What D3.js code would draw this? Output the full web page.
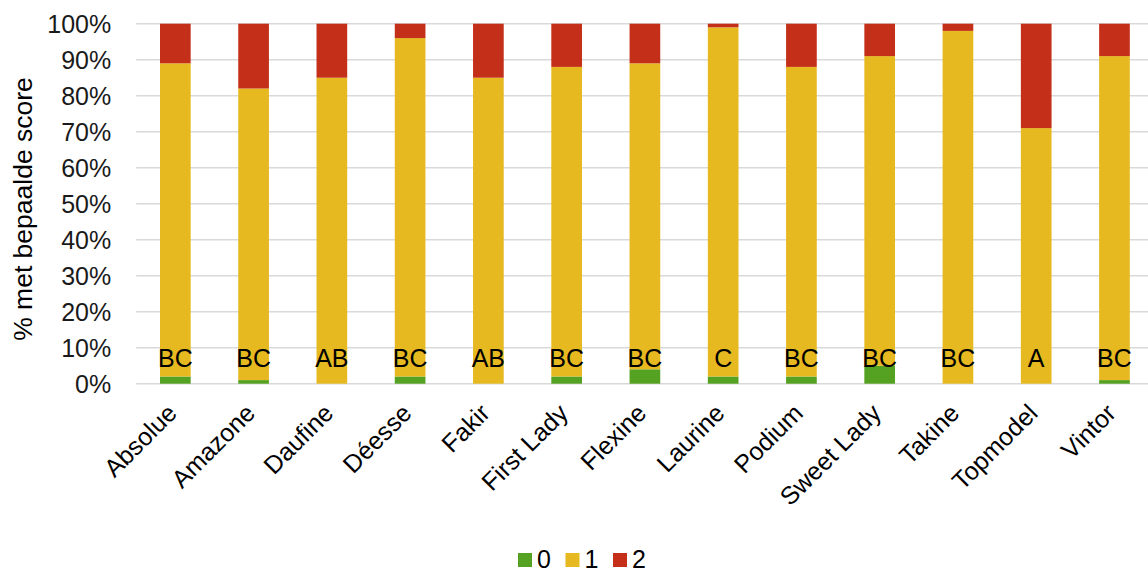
<!DOCTYPE html>
<html>
<head>
<meta charset="utf-8">
<script src="https://cdn.jsdelivr.net/npm/d3@7"></script>
<style>
  body { margin: 0; background: #fff; }
  svg { display: block; font-family: "Liberation Sans", Arial, sans-serif; }
</style>
</head>
<body>
<svg id="chart" width="1148" height="572"></svg>
<script>
// Cultivars and share of plants per score (percent)
const cultivars = ["Absolue", "Amazone", "Daufine", "Déesse", "Fakir", "First Lady", "Flexine",
                   "Laurine", "Podium", "Sweet Lady", "Takine", "Topmodel", "Vintor"];
const score0 = [2, 1, 0, 2, 0, 2, 4, 2, 2, 5, 0, 0, 1];
const score1 = [87, 81, 85, 94, 85, 86, 85, 97, 86, 86, 98, 71, 90];
const score2 = [11, 18, 15, 4, 15, 12, 11, 1, 12, 9, 2, 29, 9];
const groups = ["BC", "BC", "AB", "BC", "AB", "BC", "BC", "C", "BC", "BC", "BC", "A", "BC"];
const seriesKeys = ["0", "1", "2"];
const seriesColors = ["#55a122", "#e5b91f", "#c42f1a"];
const yTicks = [0, 10, 20, 30, 40, 50, 60, 70, 80, 90, 100];

const rows = cultivars.map((c, i) => ({ name: c, "0": score0[i], "1": score1[i], "2": score2[i], group: groups[i] }));

const svg = d3.select("#chart");
const plotLeft = 136.2, plotRight = 1153.6, plotTop = 23.7, plotBottom = 383.7;
const fontSize = 25;

const x = d3.scaleBand().domain(cultivars).range([plotLeft, plotRight]).paddingInner(0.608).paddingOuter(0.304);
const y = d3.scaleLinear().domain([0, 100]).range([plotBottom, plotTop]);
const color = d3.scaleOrdinal().domain(seriesKeys).range(seriesColors);

// horizontal gridlines
svg.append("g")
  .selectAll("line")
  .data(yTicks)
  .join("line")
  .attr("x1", plotLeft).attr("x2", 1148)
  .attr("y1", d => y(d)).attr("y2", d => y(d))
  .attr("stroke", "#d9d9d9").attr("stroke-width", 1.5);

// y axis tick labels
const yAxis = d3.axisLeft(y).tickValues(yTicks).tickFormat(d => d + "%").tickSize(0).tickPadding(0);
const yg = svg.append("g").attr("transform", `translate(${plotLeft - 25},0)`).call(yAxis);
yg.select(".domain").remove();
yg.selectAll("text").attr("font-size", fontSize).attr("fill", "#1a1a1a").attr("font-family", "Liberation Sans, Arial, sans-serif").attr("dy", "0.35em");

// stacked bars
const stacked = d3.stack().keys(seriesKeys)(rows);
svg.append("g")
  .selectAll("g")
  .data(stacked)
  .join("g")
  .attr("fill", d => color(d.key))
  .selectAll("rect")
  .data(d => d)
  .join("rect")
  .attr("x", d => x(d.data.name))
  .attr("width", x.bandwidth())
  .attr("y", d => y(d[1]))
  .attr("height", d => y(d[0]) - y(d[1]));

// significance group letters
svg.append("g")
  .selectAll("text")
  .data(rows)
  .join("text")
  .attr("x", d => x(d.name) + x.bandwidth() / 2)
  .attr("y", y(4.6))
  .attr("text-anchor", "middle")
  .attr("font-size", fontSize)
  .attr("fill", "#000")
  .text(d => d.group);

// x axis category labels
const xAxis = d3.axisBottom(x).tickSize(0).tickPadding(0);
const xg = svg.append("g").attr("transform", `translate(0,${plotBottom})`).call(xAxis);
xg.select(".domain").remove();
xg.selectAll("text")
  .attr("font-size", fontSize)
  .attr("fill", "#000")
  .attr("font-family", "Liberation Sans, Arial, sans-serif")
  .attr("text-anchor", "end")
  .attr("dy", null)
  .attr("y", 0)
  .attr("transform", "translate(3,31) rotate(-45)");

// y axis title
svg.append("text")
  .attr("transform", "translate(32,209) rotate(-90)")
  .attr("text-anchor", "middle")
  .attr("font-size", 26.5)
  .attr("fill", "#000")
  .text("% met bepaalde score");

// legend
const legend = svg.append("g").attr("transform", "translate(518,553)");
const legendStep = 47.5;
seriesKeys.forEach((k, i) => {
  const g = legend.append("g").attr("transform", `translate(${i * legendStep},0)`);
  g.append("rect").attr("width", 14).attr("height", 14).attr("fill", color(k));
  g.append("text").attr("x", 19).attr("y", 15).attr("font-size", fontSize).attr("fill", "#000").text(k);
});
</script>
</body>
</html>
